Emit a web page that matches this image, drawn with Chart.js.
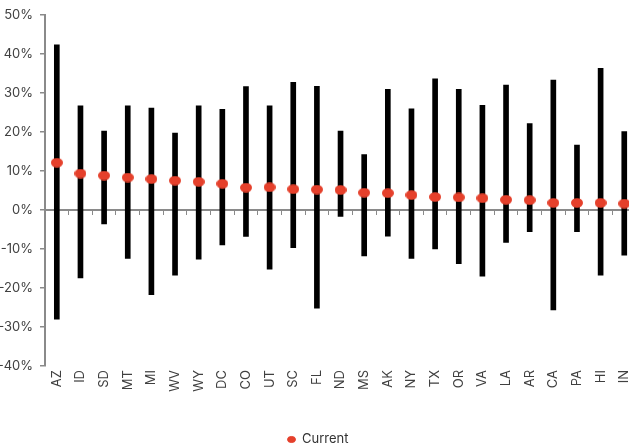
<!DOCTYPE html>
<html>
<head>
<meta charset="utf-8">
<script src="https://cdn.jsdelivr.net/npm/chart.js@4"></script>
<style>
  html, body { margin: 0; padding: 0; background: #fff; overflow: hidden; }
  #wrap { position: relative; width: 629px; height: 446px; overflow: hidden; }
  #chart { position: absolute; left: -8px; top: 0; }
</style>
</head>
<body>
<div id="wrap"><canvas id="chart" width="652" height="446"></canvas></div>
<script>
const states = ["AZ", "ID", "SD", "MT", "MI", "WV", "WY", "DC", "CO", "UT", "SC", "FL", "ND",
  "MS", "AK", "NY", "TX", "OR", "VA", "LA", "AR", "CA", "PA", "HI", "IN"];
const highs = [42.3, 26.7, 20.2, 26.7, 26.1, 19.7, 26.7, 25.8, 31.6, 26.7, 32.7, 31.7, 20.2,
  14.2, 30.9, 25.9, 33.6, 30.9, 26.8, 32.0, 22.1, 33.3, 16.6, 36.3, 20.1];
const lows = [-28.0, -17.4, -3.6, -12.4, -21.7, -16.7, -12.6, -9.0, -6.8, -15.2, -9.7, -25.2, -1.7,
  -11.8, -6.7, -12.4, -10.0, -13.8, -17.0, -8.3, -5.6, -25.6, -5.6, -16.7, -11.6];
const current = [12.1, 9.3, 8.8, 8.3, 7.9, 7.5, 7.2, 6.7, 5.7, 5.8, 5.3, 5.2, 5.1,
  4.4, 4.3, 3.8, 3.3, 3.2, 3.0, 2.6, 2.5, 1.8, 1.8, 1.8, 1.6];

const RED = "#e5402b";
const GREY = "#8a8a8a";
const TXT = "#404040";

// flat oval marker like the original
const dot = document.createElement("canvas");
dot.width = 12;
dot.height = 10;
{
  const c = dot.getContext("2d");
  c.fillStyle = RED;
  c.beginPath();
  c.ellipse(6, 5, 6, 4.8, 0, 0, Math.PI * 2);
  c.fill();
}

Chart.defaults.font.family = "Inter";
Chart.defaults.font.size = 13;
Chart.defaults.color = TXT;

new Chart(document.getElementById("chart"), {
  type: "bar",
  data: {
    labels: states,
    datasets: [
      {
        type: "line", label: "Current", data: current, showLine: false,
        pointStyle: dot, pointRadius: 6, backgroundColor: RED, borderColor: RED, order: 1,
      },
      {
        label: "_range", data: lows.map((lo, i) => [lo, highs[i]]),
        backgroundColor: "#000", barThickness: 5, order: 2,
      },
    ],
  },
  options: {
    responsive: false,
    animation: false,
    layout: { padding: { top: 14, right: 0, bottom: -10, left: 0 } },
    plugins: {
      tooltip: { enabled: false },
      legend: {
        position: "bottom",
        labels: {
          usePointStyle: true, pointStyle: "circle", boxHeight: 4.3, pointStyleWidth: 8,
          padding: 2, color: "#333", font: { size: 13 },
          filter: (i) => !i.text.startsWith("_"),
        },
      },
    },
    scales: {
      x: {
        offset: true,
        grid: { display: false, drawTicks: false },
        border: { display: false },
        ticks: { minRotation: 90, maxRotation: 90, padding: 4, autoSkip: false, color: TXT },
        afterFit: (s) => { s.height = 65; },
      },
      x2: {
        type: "category", offset: true, position: { y: 0 },
        grid: { drawOnChartArea: false, drawTicks: true, tickLength: 4, color: GREY, lineWidth: 1, offset: true },
        border: { color: GREY, width: 2 },
        ticks: { display: false },
      },
      y: {
        min: -40, max: 50,
        ticks: { stepSize: 10, padding: 7, color: TXT, callback: (v) => v + "%" },
        grid: { drawOnChartArea: false, drawTicks: true, tickLength: 5, color: GREY, lineWidth: 1.5 },
        border: { color: GREY, width: 2 },
        afterFit: (s) => { s.width = 53; },
      },
    },
  },
});
</script>
</body>
</html>
